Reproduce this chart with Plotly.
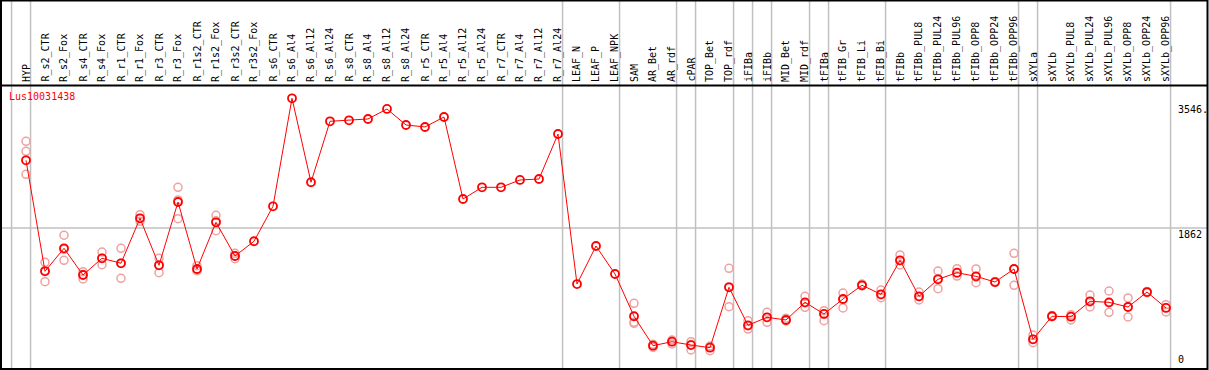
import plotly.graph_objects as go

W, H = 1209, 370

categories = ["HYP", "R_s2_CTR", "R_s2_Fox", "R_s4_CTR", "R_s4_Fox", "R_r1_CTR", "R_r1_Fox",
              "R_r3_CTR", "R_r3_Fox", "R_r1s2_CTR", "R_r1s2_Fox", "R_r3s2_CTR", "R_r3s2_Fox",
              "R_s6_CTR", "R_s6_Al4", "R_s6_Al12", "R_s6_Al24", "R_s8_CTR", "R_s8_Al4", "R_s8_Al12",
              "R_s8_Al24", "R_r5_CTR", "R_r5_Al4", "R_r5_Al12", "R_r5_Al24", "R_r7_CTR", "R_r7_Al4",
              "R_r7_Al12", "R_r7_Al24", "LEAF_N", "LEAF_P", "LEAF_NPK", "SAM", "AR_Bet", "AR_rdf",
              "cPAR", "TOP_Bet", "TOP_rdf", "iFIBa", "iFIBb", "MID_Bet", "MID_rdf", "tFIBa",
              "tFIB_Gr", "tFIB_Li", "tFIB_Bi", "tFIBb", "tFIBb_PUL8", "tFIBb_PUL24", "tFIBb_PUL96",
              "tFIBb_OPP8", "tFIBb_OPP24", "tFIBb_OPP96", "sXYLa", "sXYLb", "sXYLb_PUL8",
              "sXYLb_PUL24", "sXYLb_PUL96", "sXYLb_OPP8", "sXYLb_OPP24", "sXYLb_OPP96"]

mean_values = [2775, 1278, 1588, 1228, 1453, 1386, 1993, 1359, 2213, 1309, 1939, 1484, 1683,
               2155, 3612, 2479, 3302, 3315, 3333, 3468, 3252, 3225, 3360, 2253, 2411, 2411,
               2510, 2523, 3130, 1106, 1619, 1241, 671, 274, 328, 283, 247, 1062, 549, 657,
               621, 859, 702, 904, 1089, 967, 1426, 940, 1170, 1259, 1210, 1133, 1309, 360,
               671, 665, 873, 859, 796, 998, 783]

replicate_values = [
    [3032, 2897, 2587], [1399, 1137, 1290], [1764, 1426, 1575], [1272, 1174, 1235],
    [1538, 1367, 1455], [1588, 1183, 1390], [2041, 1952, 1990], [1453, 1259, 1365],
    [2411, 1988, 2240], [1353, 1286, 1290], [2033, 1826, 1960], [1521, 1448, 1485],
    [], [], [], [], [], [], [], [], [], [], [], [], [], [], [], [], [], [], [], [],
    [846, 576, 591], [293, 252, 277], [351, 297, 330], [328, 216, 290], [270, 206, 260],
    [1318, 800, 1070], [611, 499, 540], [725, 590, 655], [644, 611, 610], [940, 792, 850],
    [746, 611, 700], [985, 783, 900], [1106, 1080, 1090], [1025, 922, 960],
    [1498, 1363, 1420], [998, 891, 935], [1282, 1043, 1180], [1313, 1214, 1255],
    [1309, 1124, 1200], [1140, 1125, 1133], [1521, 1089, 1310], [418, 314, 360],
    [680, 665, 671], [692, 621, 670], [958, 796, 865], [1012, 725, 850], [918, 661, 800],
    [1005, 990, 998], [827, 729, 790]]

group_last_index = [-1, 0, 28, 31, 34, 35, 37, 38, 39, 41, 42, 45, 52, 53, 60]
grid_value = 1862
axis_labels = ["3546.", "1862", "0"]
axis_label_values = [3546, 1862, 0]
gene_name = "Lus10031438"

# pixel calibration of the frame
x0_px, dx_px = 26.0, 19.0          # first category centre and spacing
y0_px, dy_per_unit = 366.0, 138.0 / 1862.0
x_range = [(0 - x0_px) / dx_px, (W - x0_px) / dx_px]
y_range = [(y0_px - H) / dy_per_unit, y0_px / dy_per_unit]

def px_x(p):
    return p / W

def px_y(p):
    return 1 - p / H

FONT = "DejaVu Sans Mono"
idx = list(range(len(categories)))

fig = go.Figure()

rx, ry = [], []
for i, reps in enumerate(replicate_values):
    for v in reps:
        rx.append(i)
        ry.append(v)
fig.add_trace(go.Scatter(x=rx, y=ry, mode="markers",
                         marker=dict(symbol="circle-open", size=8, color="#F0A0A0",
                                     line=dict(width=1.5, color="#F0A0A0")),
                         hoverinfo="skip", showlegend=False))
fig.add_trace(go.Scatter(x=idx, y=mean_values, mode="lines+markers",
                         line=dict(color="#FF0000", width=1),
                         marker=dict(symbol="circle-open", size=8, color="#FF0000",
                                     line=dict(width=1.8, color="#FF0000")),
                         text=categories, showlegend=False))

shapes = []
# group separator lines
for g in group_last_index:
    shapes.append(dict(type="line", xref="x", yref="paper", x0=g + 0.24, x1=g + 0.24,
                       y0=px_y(369), y1=1, line=dict(color="#C0C0C0", width=1.5), layer="below"))
# horizontal grid line
shapes.append(dict(type="line", xref="paper", yref="y", x0=px_x(1), x1=px_x(1207),
                   y0=grid_value, y1=grid_value, line=dict(color="#C0C0C0", width=1.5), layer="below"))
# header separator
shapes.append(dict(type="line", xref="paper", yref="paper", x0=px_x(1), x1=px_x(1207),
                   y0=px_y(85.5), y1=px_y(85.5), line=dict(color="black", width=2)))
# frame
shapes.append(dict(type="rect", xref="paper", yref="paper", x0=px_x(1), x1=px_x(1207.5),
                   y0=px_y(369), y1=px_y(0.5), line=dict(color="black", width=2)))

annotations = []
for i, c in enumerate(categories):
    annotations.append(dict(x=i, y=px_y(83), xref="x", yref="paper", text=c, textangle=-90,
                            xanchor="center", yanchor="bottom", showarrow=False,
                            font=dict(family=FONT, size=10, color="black"),
                            borderpad=0))
annotations.append(dict(x=px_x(8), y=px_y(90), xref="paper", yref="paper", text=gene_name,
                        xanchor="left", yanchor="top", showarrow=False,
                        font=dict(family=FONT, size=10, color="#FF0000"), borderpad=0))
for t, v in zip(axis_labels, axis_label_values):
    annotations.append(dict(x=px_x(1177), y=v, xref="paper", yref="y", text=t,
                            xanchor="left", yanchor="bottom" if v == 0 else "top",
                            showarrow=False, borderpad=0,
                            font=dict(family=FONT, size=10, color="black")))

fig.update_layout(width=W, height=H, margin=dict(l=0, r=0, t=0, b=0),
                  paper_bgcolor="white", plot_bgcolor="white",
                  xaxis=dict(range=x_range, visible=False, fixedrange=True),
                  yaxis=dict(range=y_range, visible=False, fixedrange=True),
                  shapes=shapes, annotations=annotations, showlegend=False)

fig.write_html("out.html", config={"displayModeBar": False},
               post_script="document.body.style.margin='0';document.body.style.overflow='hidden';")
